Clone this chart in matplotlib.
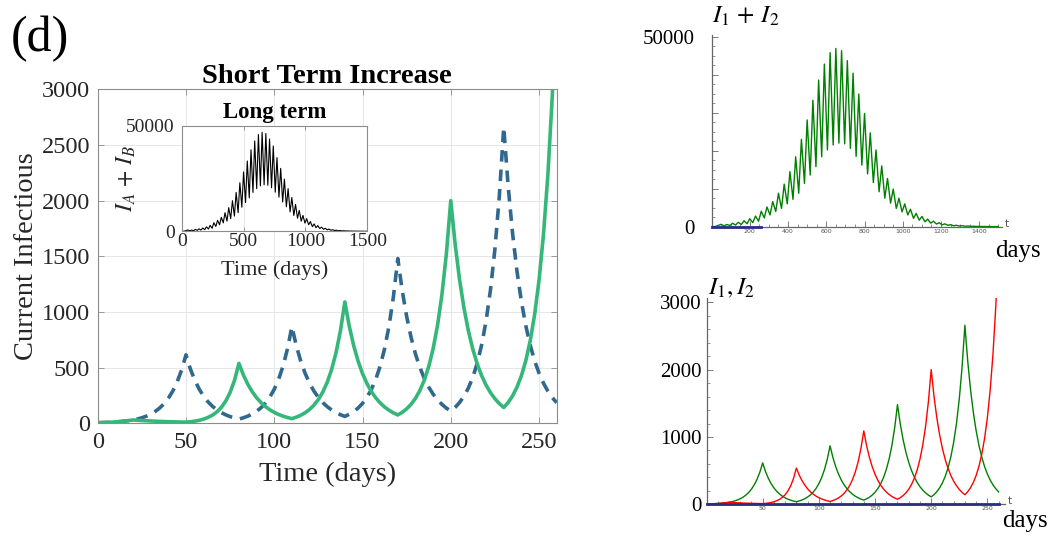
import numpy as np
import matplotlib
matplotlib.use('Agg')
import matplotlib.pyplot as plt
from matplotlib.ticker import MultipleLocator

plt.rcParams['font.family'] = ['Liberation Serif', 'DejaVu Serif']
plt.rcParams['mathtext.fontset'] = 'stix'

# ---------------- data ----------------
# short term (days 0-260, read every 2.5 days)
days_short = np.arange(0, 262.5, 2.5)
infectious_A = [5, 6.3, 7.8, 9.8, 12.2, 15.3, 19.2, 24.0, 30,
                38.6, 49.6, 63.8, 82.1, 105.6, 135.8, 174.7, 224.6, 288.9, 371.5, 478.2, 615,
                487.6, 386.7, 306.6, 243.1, 192.8, 152.8, 121.2, 96.1, 76.2, 60.4, 47.9, 38,
                49.3, 64.0, 83.1, 107.8, 139.9, 181.5, 235.5, 305.7, 396.7, 514.8, 668.9, 868,
                696.7, 559.2, 448.8, 360.2, 289.1, 232.1, 186.3, 149.5, 120.0, 96.3, 77.2, 62,
                80.8, 105.2, 137.0, 178.5, 232.5, 302.9, 394.6, 514.0, 669.6, 872.0, 1136.1, 1480,
                1191.8, 959.8, 772.9, 622.4, 501.2, 403.7, 325.1, 261.8, 210.8, 169.8, 136.6, 110,
                143.5, 187.1, 244.0, 318.1, 414.8, 541.0, 705.5, 920.0, 1199.8, 1564.0, 2039.7, 2660,
                2130.1, 1705.9, 1366.1, 1094.0, 876.1, 701.6, 561.8, 450.0, 360.4, 288.6, 231.0, 185]
infectious_B = [5, 6.3, 7.8, 9.8, 12.2, 15.3, 19.2, 24.0, 30,
                27.4, 25.0, 22.8, 20.8, 19.0, 17.3, 15.8, 14.4, 13.1, 12.0, 11.0, 10,
                13.9, 19.4, 27.0, 37.7, 52.6, 73.3, 102.2, 142.5, 198.6, 276.9, 386.0, 538,
                435.0, 351.7, 284.4, 229.9, 185.9, 150.3, 121.5, 98.3, 79.5, 64.2, 51.9, 42,
                55.1, 72.3, 94.8, 124.3, 163.0, 213.9, 280.6, 368.0, 482.7, 633.5, 831.0, 1090,
                872.1, 697.8, 558.3, 446.7, 357.4, 286.0, 228.8, 183.1, 146.5, 117.2, 93.7, 75,
                98.6, 129.6, 170.4, 224.1, 294.6, 387.3, 509.2, 669.4, 880.1, 1157.0, 1521.3, 2000,
                1604.4, 1287.0, 1032.4, 828.2, 664.4, 532.9, 427.5, 342.9, 275.1, 220.7, 177.0, 142,
                187.0, 246.3, 324.4, 427.3, 562.8, 741.3, 976.4, 1285.9, 1693.7, 2230.7, 2938.0, 3870]

# third compartment (drawn along zero in the right-hand panels)
other_days = [0, 260]
other_values = [0, 0]

# long term total I_A + I_B: start, switching-day peaks, troughs, end
long_start_days = [0, 20]
long_start_values = [10, 60]
peak_days = np.arange(50, 1500, 30)
long_peaks = [625, 576, 910, 1152, 1555, 2110, 2802, 4055, 5200, 6600, 8800, 11200, 14500, 18400,
              23000, 28100, 33300, 38600, 42800, 45800, 46900, 46300, 43700, 40400, 34900, 29800,
              24700, 20200, 16000, 12700, 9900, 7500, 6000, 4600, 3500, 2700, 2000, 1450, 1050,
              750, 530, 370, 260, 180, 125, 85, 60, 40, 28]
trough_days = np.arange(66, 1490, 30)
long_troughs = [225, 325, 445, 585, 790, 1070, 1440, 2300, 3100, 4000, 4800, 6000, 7200, 8800,
                11400, 13600, 15800, 18400, 20200, 21500, 22000, 21800, 20600, 18500, 16200, 13900,
                11600, 9200, 7500, 6200, 4800, 3900, 3100, 2200, 1700, 1300, 950, 700, 500, 360,
                250, 180, 125, 90, 60, 42, 30, 20]
long_end_days = [1500]
long_end_values = [20]

# assemble long-term series in time order
lt_days = list(long_start_days)
lt_vals = list(long_start_values)
for i, d in enumerate(peak_days):
    lt_days.append(d); lt_vals.append(long_peaks[i])
    if i < len(trough_days):
        lt_days.append(trough_days[i]); lt_vals.append(long_troughs[i])
lt_days += long_end_days
lt_vals += long_end_values

# ---------------- figure ----------------
W, H = 1054, 540
fig = plt.figure(figsize=(W / 100, H / 100), dpi=100)

blue = '#31688e'
green = '#35b779'
spine_c = '#8c8c8c'
txt_c = '#262626'

# main axes
ax = fig.add_axes([97.7 / W, 1 - 423.3 / H, 459 / W, 334 / H])
ax.plot(days_short, infectious_A, color=blue, lw=2.6, dashes=(3.2, 2.2))
ax.plot(days_short, infectious_B, color=green, lw=2.6)
ax.set_xlim(0, 260)
ax.set_ylim(0, 3000)
ax.set_xticks([0, 50, 100, 150, 200, 250])
ax.set_yticks([0, 500, 1000, 1500, 2000, 2500, 3000])
ax.grid(True, color='#e6e6e6', lw=0.7)
ax.set_axisbelow(True)
ax.tick_params(direction='in', top=True, right=True, length=4, width=0.6, color=spine_c,
               labelsize=17.5, labelcolor=txt_c)
ax.tick_params(axis='x', pad=6.5)
ax.tick_params(axis='y', pad=5.5)
for s in ax.spines.values():
    s.set_color(spine_c)
    s.set_linewidth(0.8)
ax.set_title('Short Term Increase', fontsize=20.5, fontweight='bold', pad=4.5, color='k')
ax.set_xlabel('Time (days)', fontsize=20.5, color=txt_c)
ax.xaxis.set_label_coords(0.5, -0.115)
ax.set_ylabel('Current Infectious', fontsize=20.5, color=txt_c)
ax.yaxis.set_label_coords(-0.128, 0.5)

# inset
axin = fig.add_axes([181.7 / W, 1 - 231.3 / H, 185.6 / W, 105.6 / H])
axin.set_facecolor('white')
axin.plot(lt_days, lt_vals, color='k', lw=0.8)
axin.set_xlim(0, 1500)
axin.set_ylim(0, 50000)
axin.set_xticks([0, 500, 1000, 1500])
axin.set_yticks([0, 50000])
axin.grid(True, color='#e6e6e6', lw=0.7)
axin.set_axisbelow(True)
axin.tick_params(direction='in', top=True, right=True, length=3, width=0.6, color=spine_c,
                 labelsize=14, labelcolor=txt_c)
axin.tick_params(axis='x', pad=1.5)
axin.tick_params(axis='y', pad=5)
for s in axin.spines.values():
    s.set_color(spine_c)
    s.set_linewidth(0.8)
axin.set_title('Long term', fontsize=16.5, fontweight='bold', pad=5.5)
axin.set_xlabel('Time (days)', fontsize=16, color=txt_c)
axin.xaxis.set_label_coords(0.5, -0.272)
axin.set_ylabel(r'$I_A\,+\,I_B$', fontsize=17, color=txt_c)
axin.yaxis.set_label_coords(-0.238, 0.5)

# right panels common style
mm_green = '#008000'
mm_red = '#ff0000'
navy = '#2a2a88'
axis_c = '#666666'

def style_right(a, ypad):
    for side in ['top', 'right']:
        a.spines[side].set_visible(False)
    for side in ['left', 'bottom']:
        a.spines[side].set_color(axis_c)
        a.spines[side].set_linewidth(0.9)
    a.tick_params(direction='in', which='major', length=4, width=0.6, color=axis_c)
    a.tick_params(direction='in', which='minor', length=2, width=0.5, color=axis_c)
    a.tick_params(axis='y', labelsize=15, pad=ypad, labelcolor='k')
    a.tick_params(axis='x', labelsize=4.5, pad=1.5, labelcolor='#555555')
    for lab in a.get_xticklabels():
        lab.set_family('DejaVu Sans')

# right-top
ax2 = fig.add_axes([711.5 / W, 1 - 226.7 / H, 290.2 / W, 191.7 / H])
ax2.plot(lt_days, lt_vals, color=mm_green, lw=1.0)
ax2.plot(other_days, other_values, color=navy, lw=2.0, clip_on=False, zorder=3)
ax2.set_xlim(0, 1517)
ax2.set_ylim(0, 50450)
ax2.set_yticks([0, 10000, 20000, 30000, 40000, 50000])
ax2.set_yticklabels(['0', '', '', '', '', '50000'])
ax2.yaxis.set_minor_locator(MultipleLocator(2500))
ax2.set_xticks([200, 400, 600, 800, 1000, 1200, 1400])
ax2.xaxis.set_minor_locator(MultipleLocator(50))
style_right(ax2, 12)

# right-bottom
ax3 = fig.add_axes([706.5 / W, 1 - 504.3 / H, 298.5 / W, 206.7 / H])
ax3.plot(days_short, infectious_A, color=mm_green, lw=1.0)
ax3.plot(days_short, infectious_B, color=mm_red, lw=1.0)
ax3.plot(other_days, other_values, color=navy, lw=2.0, clip_on=False, zorder=3)
ax3.set_xlim(0, 265.7)
ax3.set_ylim(0, 3070)
ax3.set_yticks([0, 1000, 2000, 3000])
ax3.yaxis.set_minor_locator(MultipleLocator(200))
ax3.set_xticks([50, 100, 150, 200, 250])
ax3.xaxis.set_minor_locator(MultipleLocator(10))
style_right(ax3, 3.5)

# figure texts
fig.text(11 / W, 1 - 39 / H, '(d)', fontsize=36, ha='left', va='center')
fig.text(711.7 / W, 1 - 28.3 / H, r'$I_1\,+\,I_2$', fontsize=18, ha='left', va='bottom')
fig.text(708 / W, 1 - 300 / H, r'$I_1, I_2$', fontsize=18, ha='left', va='bottom')
fig.text(995 / W, 1 - 262 / H, 'days', fontsize=18, ha='left', va='bottom')
fig.text(1001.7 / W, 1 - 531.7 / H, 'days', fontsize=18, ha='left', va='bottom')
fig.text(1007 / W, 1 - 224 / H, 't', fontsize=7.5, ha='center', va='center',
         family='DejaVu Sans', color='#555555')
fig.text(1010 / W, 1 - 500.5 / H, 't', fontsize=7.5, ha='center', va='center',
         family='DejaVu Sans', color='#555555')

fig.savefig('out.png', dpi=100)
